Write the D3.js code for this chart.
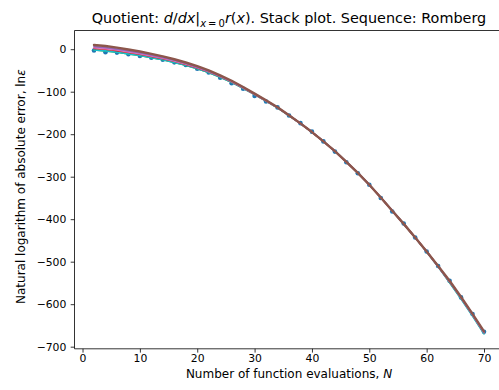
<!DOCTYPE html>
<html>
<head>
<meta charset="utf-8">
<script src="https://cdn.jsdelivr.net/npm/d3@7"></script>
<style>
  html, body { margin: 0; padding: 0; background: #fff; }
  svg { display: block; font-family: "DejaVu Sans", sans-serif; }
</style>
</head>
<body>
<svg id="chart" width="499" height="390"></svg>
<script>
// ---- Data ----
const evaluations = [2,4,6,8,10,12,14,16,18,20,22,24,26,28,30,32,34,36,38,40,42,44,46,48,50,52,54,56,58,60,62,64,66,68,70];

// Blue point series (C0)
const seriesBlue = [-3,-7,-8,-12,-16,-20,-25,-31,-37,-46,-55,-67,-80,-93,-110,-123,-137,-156,-174,-194,-217,-241,-266,-292,-319,-350,-382,-410,-443,-476,-510,-545,-584,-623,-665];

const seriesGreen = [-2,-4,-7,-11,-15,-20,-25,-31,-38,-46,-55,-66,-78,-92,-107,-122,-138,-156,-175,-195,-217,-240,-265,-291,-319,-349,-380,-411,-443,-476,-511,-549,-587,-627,-669];
const seriesCyan = [-2,-4,-7,-11,-15,-20,-25,-31,-38,-46,-55,-66,-78,-92,-107,-122,-138,-156,-175,-195,-217,-240,-265,-291,-319,-349,-380,-411,-443,-477,-512,-549,-588,-628,-670];
const seriesRed = [2,-0.2,-3.4,-7.6,-11.8,-17,-22.3,-28.5,-35.8,-44,-53.2,-64.5,-76.7,-91,-106.2,-121.4,-137.6,-155.8,-174.9,-195,-217,-240,-265,-291,-319,-349,-380,-411,-443,-476,-511,-547,-585,-625,-667];
const seriesPink = [3.5,1.2,-2,-6.3,-10.6,-15.9,-21.3,-27.6,-34.9,-43.2,-52.6,-63.9,-76.2,-90.6,-105.9,-121.2,-137.4,-155.7,-174.8,-195,-217,-240,-265,-291,-319,-349,-380,-411,-443,-476,-511,-547,-585,-625,-667];
const seriesPurple = [6,3.6,0.2,-4.2,-8.6,-14.1,-19.6,-26,-33.5,-42,-51.5,-63,-75.4,-89.9,-105.4,-120.8,-137.2,-155.5,-174.8,-195,-217,-240,-265,-291,-319,-349,-380,-411,-443,-476,-511,-546,-584,-624,-666];
const seriesBrown = [10,7.4,3.8,-0.8,-5.4,-11.1,-16.8,-23.6,-31.3,-40,-49.7,-61.4,-74.2,-88.9,-104.6,-120.2,-136.8,-155.3,-174.6,-195,-217,-240,-265,-291,-319,-349,-380,-411,-443,-476,-510,-545,-583,-623,-664];

const xTicks = [0,10,20,30,40,50,60,70];
const yTicks = [0,-100,-200,-300,-400,-500,-600,-700];

const lineSeries = [
  {name: "green", values: seriesGreen, color: "#2ca02c", width: 1.6},
  {name: "cyan", values: seriesCyan, color: "#17becf", width: 1.6},
  {name: "red", values: seriesRed, color: "#d62728", width: 1.6},
  {name: "pink", values: seriesPink, color: "#e377c2", width: 1.6},
  {name: "purple", values: seriesPurple, color: "#9467bd", width: 1.8},
  {name: "brown", values: seriesBrown, color: "#8c564b", width: 2.4}
];

// ---- Layout ----
const svg = d3.select("#chart");
const pLeft = 74.5, pRight = 503.5, pTop = 30.5, pBottom = 348.8;

const x = d3.scaleLinear().domain([-1.4, 73.4]).range([pLeft, pRight]);
const y = d3.scaleLinear().domain([-705, 44]).range([pBottom, pTop]);

const g = svg.append("g");

// Blue points
g.selectAll("circle.pt")
  .data(evaluations.map((n, i) => [n, seriesBlue[i]]))
  .enter().append("circle")
  .attr("class", "pt")
  .attr("cx", d => x(d[0]))
  .attr("cy", d => y(d[1]))
  .attr("r", 2.3)
  .attr("fill", "#1f77b4");

// Lines
const line = d3.line().x(d => x(d[0])).y(d => y(d[1]));
lineSeries.forEach(s => {
  g.append("path")
    .datum(evaluations.map((n, i) => [n, s.values[i]]))
    .attr("d", line)
    .attr("fill", "none")
    .attr("stroke", s.color)
    .attr("stroke-width", s.width)
    .attr("stroke-linejoin", "round")
    .attr("stroke-linecap", "round");
});

// Axes
const fmt = d => (d < 0 ? "\u2212" + Math.abs(d) : String(d));
const xAxis = d3.axisBottom(x).tickValues(xTicks).tickFormat(fmt).tickSizeOuter(0).tickSize(3.8).tickPadding(2.2);
const yAxis = d3.axisLeft(y).tickValues(yTicks).tickFormat(fmt).tickSizeOuter(0).tickSize(3.8).tickPadding(4.4);

const gx = svg.append("g").attr("transform", `translate(0,${pBottom})`).call(xAxis);
const gy = svg.append("g").attr("transform", `translate(${pLeft},0)`).call(yAxis);
[gx, gy].forEach(a => {
  a.select(".domain").remove();
  a.selectAll(".tick line").attr("stroke", "#000").attr("stroke-width", 0.8);
  a.selectAll(".tick text").attr("fill", "#000").style("font-size", "10.8px").style("font-family", "DejaVu Sans");
});

// Spines
const spine = (x1, y1, x2, y2) => svg.append("line").attr("x1", x1).attr("y1", y1).attr("x2", x2).attr("y2", y2).attr("stroke", "#000").attr("stroke-width", 0.8);
spine(pLeft, pTop, pLeft, pBottom);
spine(pLeft, pBottom, pRight, pBottom);
spine(pLeft, pTop, pRight, pTop);
spine(pRight, pTop, pRight, pBottom);

// X label
const xl = svg.append("text")
  .attr("x", (pLeft + pRight) / 2).attr("y", 378)
  .attr("text-anchor", "middle").style("font-size", "12px");
xl.append("tspan").text("Number of function evaluations, ");
xl.append("tspan").attr("font-style", "italic").text("N");

// Y label
const yl = svg.append("text")
  .attr("transform", `translate(25,${(pTop + pBottom) / 2 - 3}) rotate(-90)`)
  .attr("text-anchor", "middle").style("font-size", "12px");
yl.append("tspan").text("Natural logarithm of absolute error, ln");
yl.append("tspan").attr("font-style", "italic").text("\u03b5");

// Title
const t = svg.append("text")
  .attr("x", (pLeft + pRight) / 2).attr("y", 23)
  .attr("text-anchor", "middle").style("font-size", "14.4px");
t.append("tspan").text("Quotient: ");
t.append("tspan").attr("font-style", "italic").text("d");
t.append("tspan").text("/");
t.append("tspan").attr("font-style", "italic").text("dx");
t.append("tspan").text("|");
t.append("tspan").attr("font-style", "italic").attr("dy", 3.5).style("font-size", "10px").text("x");
t.append("tspan").style("font-size", "10px").text("\u2009=\u20090");
t.append("tspan").attr("font-style", "italic").attr("dy", -3.5).text("r");
t.append("tspan").text("(");
t.append("tspan").attr("font-style", "italic").text("x");
t.append("tspan").text("). Stack plot. Sequence: Romberg");
</script>
</body>
</html>
